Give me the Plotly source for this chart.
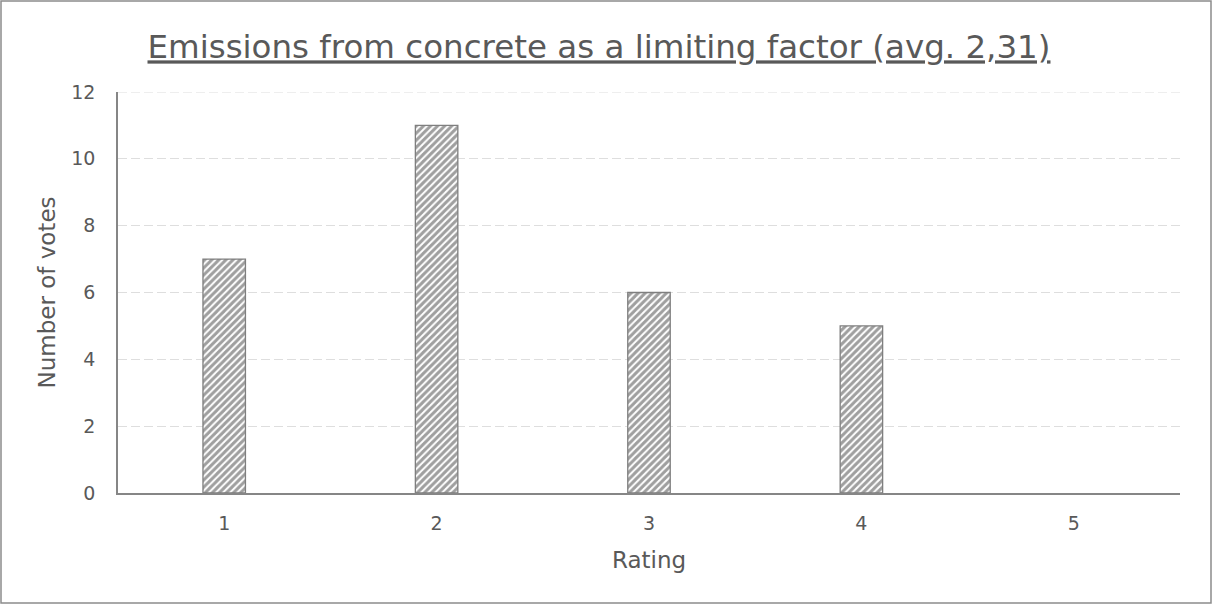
import plotly.graph_objects as go

ratings = [1, 2, 3, 4, 5]
votes = [7, 11, 6, 5, 0]
y_ticks = [0, 2, 4, 6, 8, 10, 12]

W, H = 1212, 604
ML, MR, MT, MB = 118, 32, 92, 111
PW, PH = W - ML - MR, H - MT - MB

TXT = "#595959"
FONT = "DejaVu Sans, Verdana, sans-serif"
GRID = "#dedede"

# empty categories get no outline so they leave no sliver on the axis
outline_w = [1.3 if v > 0 else 0 for v in votes]

fig = go.Figure(
    go.Bar(
        x=ratings,
        y=votes,
        width=0.2,
        marker=dict(
            color="white",
            line=dict(color="#7f7f7f", width=outline_w),
            pattern=dict(shape="/", fgcolor="#3f3f3f", bgcolor="white",
                         size=5, solidity=0.6),
        ),
        hoverinfo="x+y",
    )
)

fig.update_layout(
    width=W,
    height=H,
    margin=dict(l=ML, r=MR, t=MT, b=MB),
    paper_bgcolor="white",
    plot_bgcolor="white",
    showlegend=False,
    font=dict(family=FONT, color=TXT, size=19),
    title=dict(
        text="<u>Emissions from concrete as a limiting factor (avg. 2,31)</u>",
        x=599 / W, xref="container", xanchor="center",
        y=1 - 47 / H, yanchor="middle",
        font=dict(size=32.5, color=TXT, family=FONT),
    ),
    xaxis=dict(
        range=[0.5, 5.5],
        tickvals=ratings,
        ticktext=[str(r) for r in ratings],
        showgrid=False,
        zeroline=False,
        showline=True,
        linecolor="#868686",
        linewidth=2,
        ticks="",
        ticklabelstandoff=12,
        tickfont=dict(size=19),
        title=dict(text="Rating", font=dict(size=23, color=TXT), standoff=19),
    ),
    yaxis=dict(
        range=[0, 12],
        tickvals=y_ticks,
        showgrid=True,
        gridcolor=GRID,
        griddash="9px,4px",
        gridwidth=1,
        zeroline=False,
        showline=True,
        linecolor="#868686",
        linewidth=1.5,
        ticks="",
        ticklabelstandoff=17,
        tickfont=dict(size=19),
        title=dict(text="Number of votes", font=dict(size=23, color=TXT), standoff=9),
    ),
    shapes=[
        # top gridline at the end of the value range
        dict(
            type="line", xref="paper", yref="y",
            x0=0, x1=1, y0=y_ticks[-1], y1=y_ticks[-1],
            line=dict(color=GRID, width=1, dash="9px,4px"),
            layer="below",
        ),
        # chart-area frame
        dict(
            type="rect", xref="paper", yref="paper",
            x0=-(ML - 1) / PW, x1=1 + (MR - 1) / PW,
            y0=-(MB - 1) / PH, y1=1 + (MT - 1) / PH,
            line=dict(color="#8c8c8c", width=1.5),
            fillcolor="rgba(0,0,0,0)", layer="below",
        ),
    ],
)

fig.write_html("out.html")
